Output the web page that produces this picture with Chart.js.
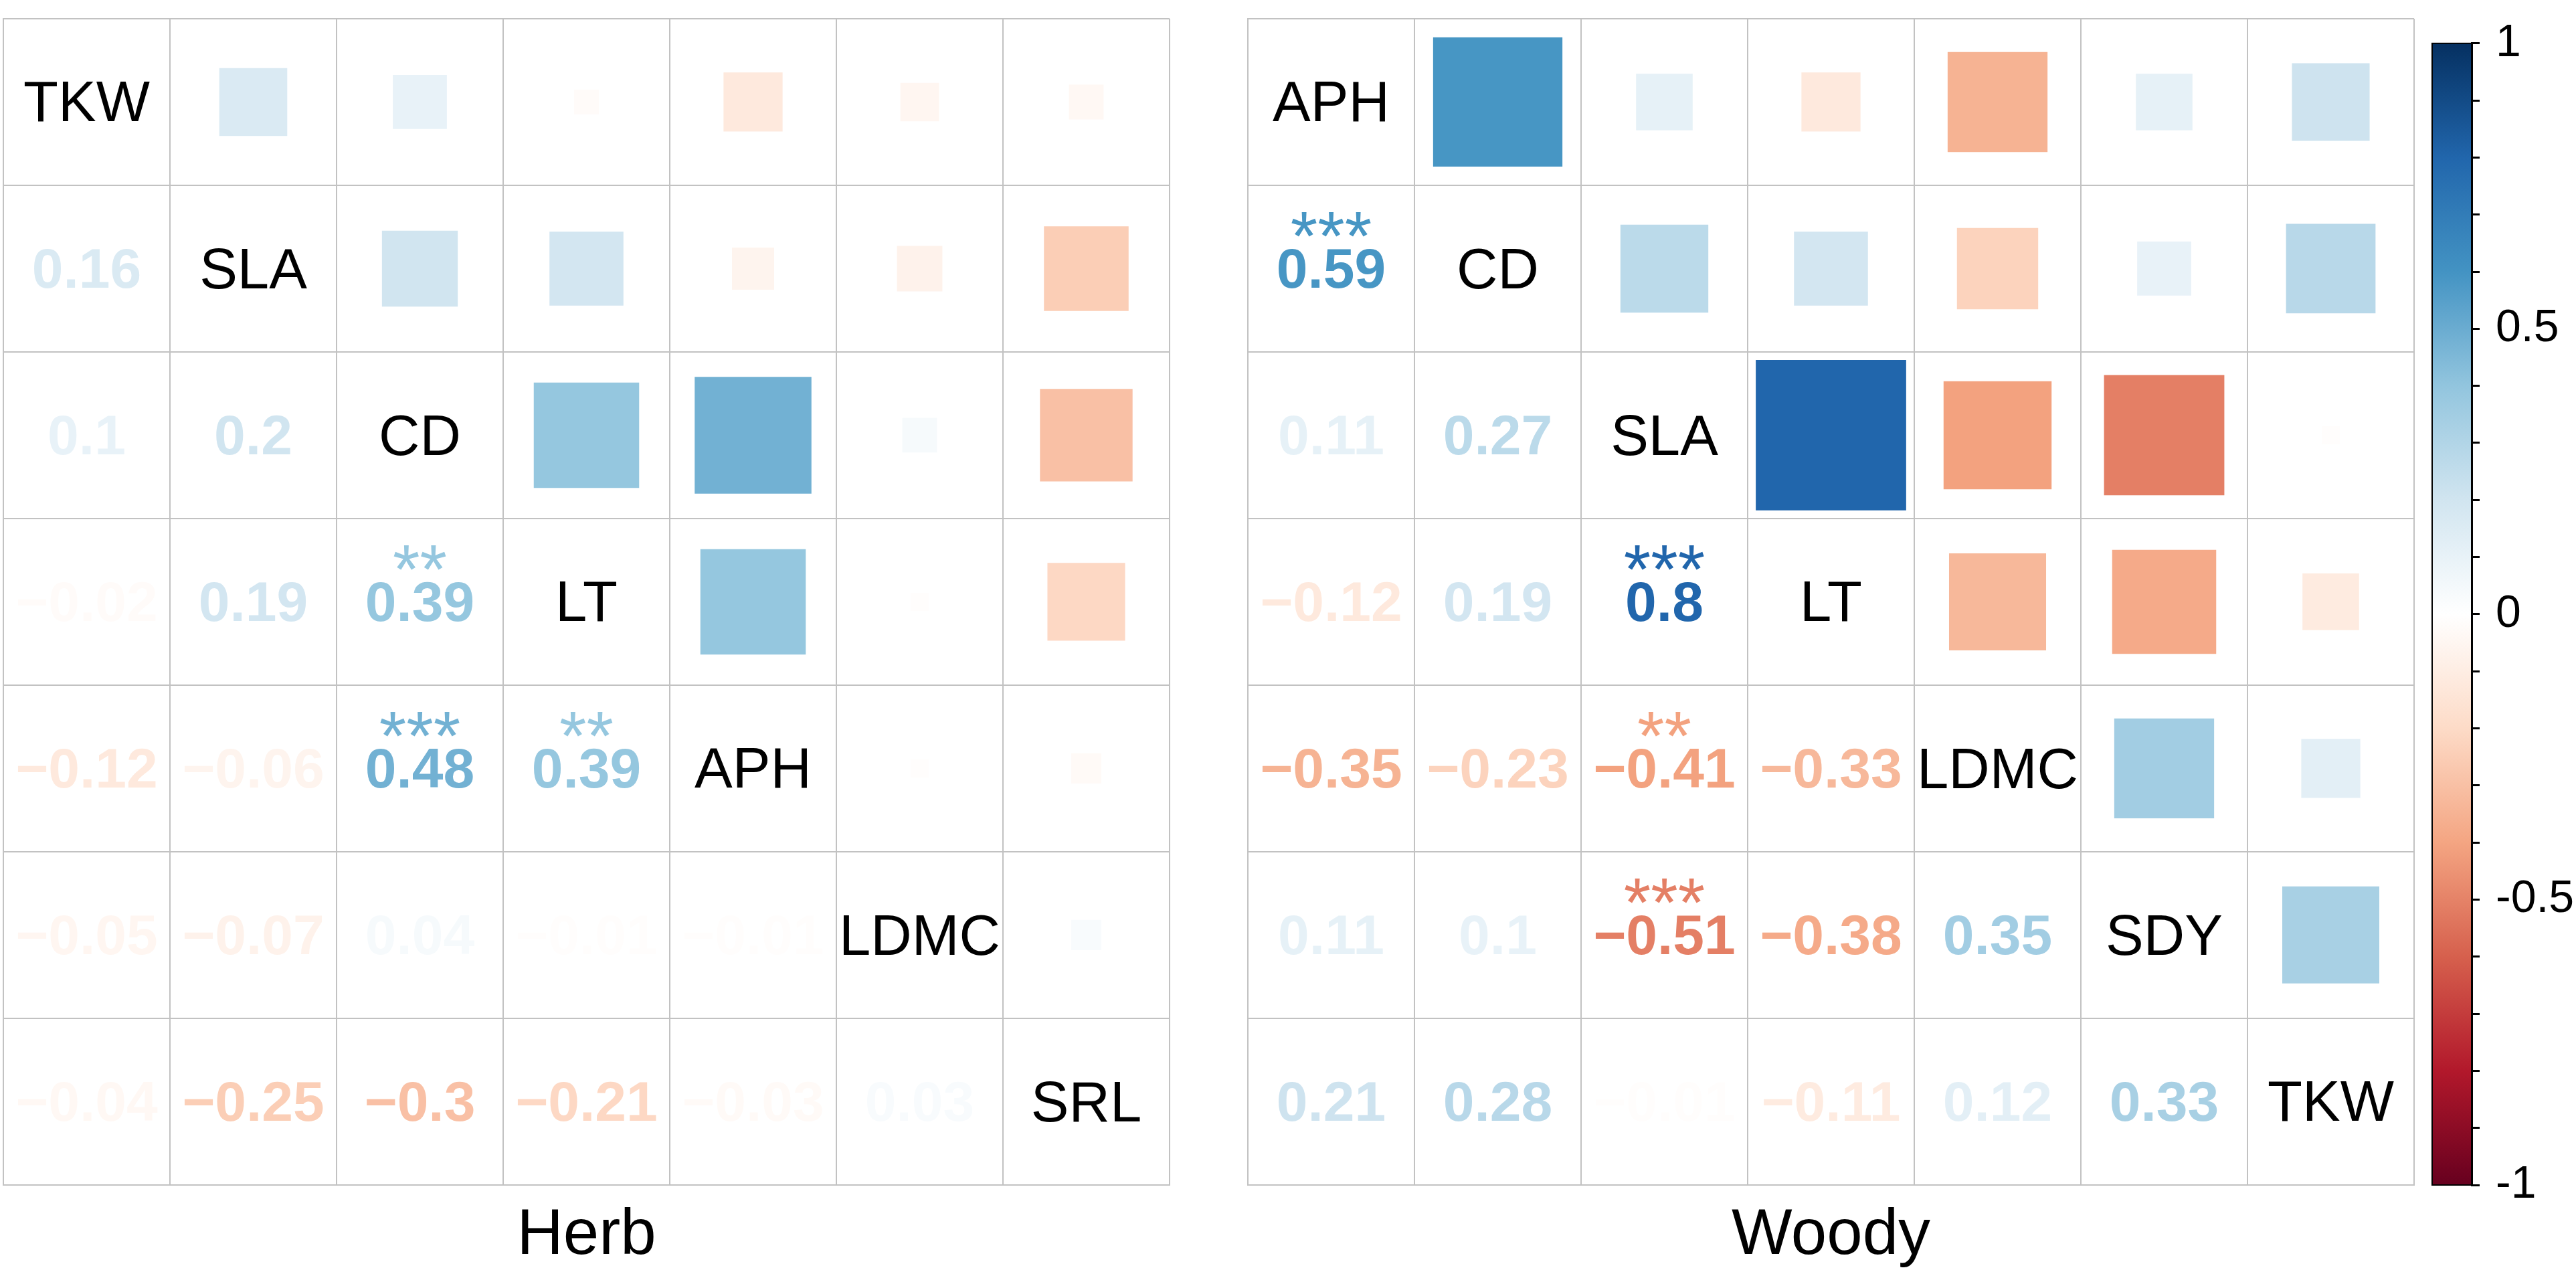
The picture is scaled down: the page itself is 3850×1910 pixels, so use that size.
<!DOCTYPE html>
<html><head><meta charset="utf-8">
<script src="https://cdn.jsdelivr.net/npm/chart.js@4.4.0/dist/chart.umd.min.js"></script>
<style>
html,body{margin:0;padding:0;background:#fff;}
body{width:3850px;height:1910px;position:relative;overflow:hidden;}
.box{position:absolute;top:0;height:1910px;}
</style></head><body>
<div class="box" style="left:0;width:1760px"><canvas id="herb"></canvas></div>
<div class="box" style="left:1800px;width:1820px"><canvas id="woody"></canvas></div>
<div class="box" style="left:3600px;width:250px"><canvas id="cbar"></canvas></div>
<script>
// ---------------- data ----------------
const herbVars = ['TKW', 'SLA', 'CD', 'LT', 'APH', 'LDMC', 'SRL'];
const herbCorr = [
  [1],
  [0.16, 1],
  [0.10, 0.20, 1],
  [-0.02, 0.19, 0.39, 1],
  [-0.12, -0.06, 0.48, 0.39, 1],
  [-0.05, -0.07, 0.04, -0.01, -0.01, 1],
  [-0.04, -0.25, -0.30, -0.21, -0.03, 0.03, 1]
];
const herbSig = [
  [''],
  ['', ''],
  ['', '', ''],
  ['', '', '**', ''],
  ['', '', '***', '**', ''],
  ['', '', '', '', '', ''],
  ['', '', '', '', '', '', '']
];
const woodyVars = ['APH', 'CD', 'SLA', 'LT', 'LDMC', 'SDY', 'TKW'];
const woodyCorr = [
  [1],
  [0.59, 1],
  [0.11, 0.27, 1],
  [-0.12, 0.19, 0.80, 1],
  [-0.35, -0.23, -0.41, -0.33, 1],
  [0.11, 0.10, -0.51, -0.38, 0.35, 1],
  [0.21, 0.28, -0.01, -0.11, 0.12, 0.33, 1]
];
const woodySig = [
  [''],
  ['***', ''],
  ['', '', ''],
  ['', '', '***', ''],
  ['', '', '**', '', ''],
  ['', '', '***', '', '', ''],
  ['', '', '', '', '', '', '']
];
const panelTitles = ['Herb', 'Woody'];
const colorbarLabels = [-1, -0.5, 0, 0.5, 1];
const rdbuStops = [-1, -0.8, -0.6, -0.4, -0.2, 0, 0.2, 0.4, 0.6, 0.8, 1];
const rdbuColors = ['#67001F', '#B2182B', '#D6604D', '#F4A582', '#FDDBC7', '#FFFFFF',
                    '#D1E5F0', '#92C5DE', '#4393C3', '#2166AC', '#053061'];

// ---------------- helpers ----------------
const FONT = "'Liberation Sans', Arial, Helvetica, sans-serif";
const GRID = '#C2C2C2';
function hexRgb(h){return [parseInt(h.substr(1,2),16),parseInt(h.substr(3,2),16),parseInt(h.substr(5,2),16)];}
function colorFor(r){
  r = Math.max(-1, Math.min(1, r));
  for (let k = 0; k < rdbuStops.length - 1; k++) {
    if (r >= rdbuStops[k] && r <= rdbuStops[k+1]) {
      const t = (r - rdbuStops[k]) / (rdbuStops[k+1] - rdbuStops[k]);
      const a = hexRgb(rdbuColors[k]), b = hexRgb(rdbuColors[k+1]);
      const c = a.map((v,i)=>Math.round(v + (b[i]-v)*t));
      return `rgb(${c[0]},${c[1]},${c[2]})`;
    }
  }
  return '#FFFFFF';
}
function fmt(r){
  let v = Math.round(r*100)/100;
  let s = String(v);
  return s.replace('-', '\u2212');
}
function drawCentered(ctx, text, cx, cy){
  const m = ctx.measureText(text);
  const yb = cy + (m.actualBoundingBoxAscent - m.actualBoundingBoxDescent)/2;
  ctx.fillText(text, cx, yb);
}

function makeTextPlugin(vars, corr, sig){
  return {
    id: 'cellText',
    afterDatasetsDraw(chart){
      const {ctx, scales:{x, y}} = chart;
      const cell = Math.abs(y.getPixelForValue(1) - y.getPixelForValue(0));
      ctx.save();
      ctx.textAlign = 'center';
      ctx.textBaseline = 'alphabetic';
      for (let i = 0; i < vars.length; i++) {
        for (let j = 0; j <= i; j++) {
          const cx = x.getPixelForValue(j + 0.5), cy = y.getPixelForValue(i + 0.5);
          if (i === j) {
            ctx.font = `85px ${FONT}`;
            ctx.fillStyle = '#000';
            drawCentered(ctx, vars[i], cx, cy);
          } else {
            const r = corr[i][j];
            ctx.fillStyle = colorFor(r);
            ctx.font = `bold 84px ${FONT}`;
            drawCentered(ctx, fmt(r), cx, cy);
            if (sig[i][j]) {
              ctx.font = `104px ${FONT}`;
              drawCentered(ctx, sig[i][j], cx, cy - 0.265*cell);
            }
          }
        }
      }
      ctx.restore();
    }
  };
}

function buildMatrix(id, vars, corr, sig, title, padLeft){
  const n = vars.length;
  const squares = [];
  for (let i = 0; i < n; i++)
    for (let j = i + 1; j < n; j++)
      squares.push({x: j + 0.5, y: i + 0.5, r: corr[j][i]});
  const radius = c => {
    if (!c.raw) return 0;
    const xs = c.chart.scales.x;
    const cell = Math.abs(xs.getPixelForValue(1) - xs.getPixelForValue(0));
    return (Math.sqrt(Math.abs(c.raw.r)) * cell + 2) / Math.SQRT2;
  };
  const axis = (extra) => Object.assign({
    type: 'linear', min: 0, max: n,
    ticks: {stepSize: 1, display: false, maxTicksLimit: 20},
    grid: {color: GRID, lineWidth: 2, drawTicks: false},
    border: {display: true, color: GRID, width: 2}
  }, extra);
  return new Chart(document.getElementById(id), {
    type: 'scatter',
    data: {datasets: [{
      data: squares,
      pointStyle: 'rect',
      pointRadius: radius,
      pointHoverRadius: radius,
      pointBorderWidth: 0,
      pointHoverBorderWidth: 0,
      pointBackgroundColor: c => c.raw ? colorFor(c.raw.r) : '#fff',
      pointBorderColor: c => c.raw ? colorFor(c.raw.r) : '#fff',
      clip: false
    }]},
    options: {
      responsive: true, maintainAspectRatio: false, animation: false, events: [],
      layout: {padding: {left: padLeft, top: 28, right: 12, bottom: 0}, autoPadding: false},
      plugins: {legend: {display: false}, tooltip: {enabled: false}},
      scales: {
        x: axis({title: {display: true, text: title, color: '#000',
                 font: {family: FONT, size: 96, lineHeight: 1.2}, padding: {top: 19, bottom: 5}}}),
        y: axis({reverse: true})
      }
    },
    plugins: [makeTextPlugin(vars, corr, sig)]
  });
}

buildMatrix('herb', herbVars, herbCorr, herbSig, panelTitles[0], 5);
buildMatrix('woody', woodyVars, woodyCorr, woodySig, panelTitles[1], 65);

// ---------------- colour bar ----------------
const cbarPlugin = {
  id: 'cbarFill',
  beforeDraw(chart){
    const {ctx, chartArea: a, scales: {y}} = chart;
    const g = ctx.createLinearGradient(0, a.top, 0, a.bottom);
    rdbuStops.forEach((v, i) => {
      const off = Math.max(0, Math.min(1, (y.getPixelForValue(v) - a.top) / (a.bottom - a.top)));
      g.addColorStop(off, rdbuColors[i]);
    });
    ctx.save();
    ctx.fillStyle = g;
    ctx.fillRect(a.left, a.top, a.right - a.left, a.bottom - a.top);
    ctx.restore();
  },
  afterDraw(chart){
    const {ctx, chartArea: a} = chart;
    ctx.save();
    ctx.strokeStyle = '#000';
    ctx.lineWidth = 2;
    ctx.strokeRect(a.left, a.top, a.right - a.left, a.bottom - a.top);
    ctx.restore();
  }
};
new Chart(document.getElementById('cbar'), {
  type: 'scatter',
  data: {datasets: []},
  options: {
    responsive: true, maintainAspectRatio: false, animation: false, events: [],
    layout: {padding: {left: 35, top: 28, right: 0, bottom: 139}, autoPadding: false},
    plugins: {legend: {display: false}, tooltip: {enabled: false}},
    scales: {
      x: {display: false, min: 0, max: 1},
      y: {
        position: 'right', min: -1, max: 1,
        afterFit: s => { s.width = 156; },
        ticks: {
          stepSize: 0.1, maxTicksLimit: 21, padding: 24, color: '#000',
          font: {family: FONT, size: 68},
          callback: v => {
            const k = Math.round(v * 10);
            const hit = colorbarLabels.find(l => Math.round(l * 10) === k);
            return hit !== undefined ? String(hit) : '';
          }
        },
        grid: {drawOnChartArea: false, drawTicks: true, tickLength: 12, color: '#000', lineWidth: 3},
        border: {display: true, color: '#000', width: 3}
      }
    }
  },
  plugins: [cbarPlugin]
});
</script>
</body></html>
